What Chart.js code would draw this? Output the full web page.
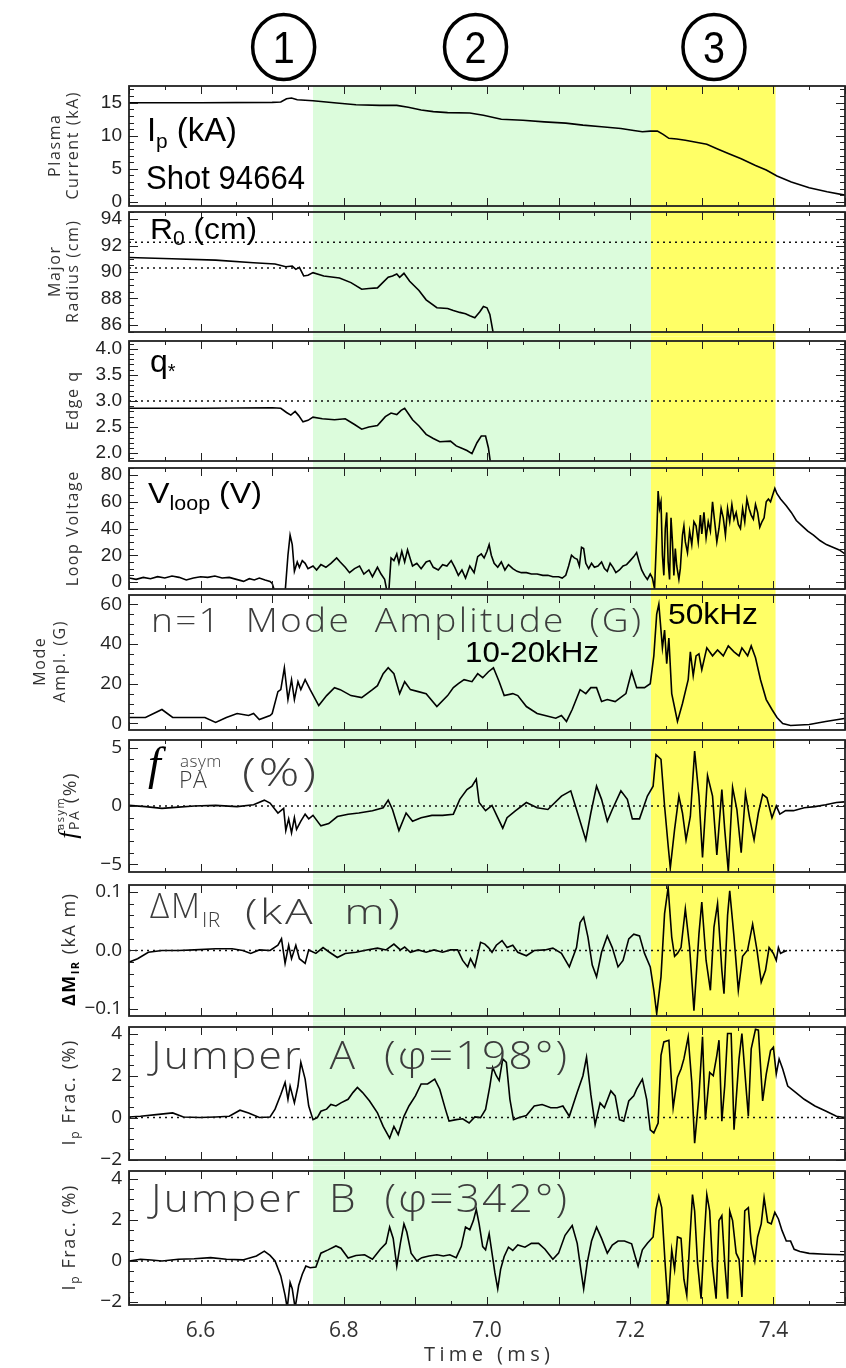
<!DOCTYPE html>
<html>
<head>
<meta charset="utf-8">
<script src="https://cdn.jsdelivr.net/npm/chart.js@4.4.1/dist/chart.umd.min.js"></script>
<style>
  html, body { margin: 0; padding: 0; background: #fff; }
  #wrap { position: relative; width: 846px; height: 1368px; overflow: hidden; background: #fff; }
  #wrap canvas { position: absolute; left: 0; }
</style>
</head>
<body>
<div id="wrap"></div>
<script>
// ---------------- data (time in ms) ----------------
const timeRange = [6.5, 7.5];
const timeTicks = [6.6, 6.8, 7.0, 7.2, 7.4];
const phaseEdges = [6.757, 7.229, 7.403];          // start of phase 2, start of phase 3, end of phase 3
const phaseMarkTimes = [6.716, 6.984, 7.317];
const phaseMarkLabels = ['1', '2', '3'];
const radiusLimits = [92.25, 90.3];
const qLimit = [3.0];
const zeroLine = [0];

const plasmaCurrent = [
  [6.500,15.0],[6.600,15.0],[6.700,15.05],[6.712,15.1],[6.720,15.6],[6.727,15.7],[6.735,15.45],
  [6.757,15.3],[6.790,14.95],[6.817,14.7],[6.850,14.6],[6.874,14.6],[6.890,14.3],[6.908,13.9],
  [6.925,13.65],[6.945,13.5],[6.976,13.45],[6.995,13.1],[7.020,12.5],[7.050,12.35],[7.080,12.1],
  [7.110,11.9],[7.134,11.6],[7.160,11.35],[7.187,11.1],[7.205,10.8],[7.217,10.6],[7.228,10.7],
  [7.238,10.7],[7.246,10.2],[7.254,9.6],[7.265,9.5],[7.277,9.3],[7.292,9.0],[7.307,8.7],[7.322,8.0],
  [7.337,7.3],[7.355,6.5],[7.375,5.5],[7.390,4.8],[7.405,3.9],[7.425,3.0],[7.450,2.1],[7.475,1.5],[7.500,1.0]
];

const majorRadius = [
  [6.500,91.1],[6.560,91.0],[6.621,90.9],[6.674,90.7],[6.704,90.6],[6.719,90.4],[6.728,90.45],
  [6.733,90.2],[6.738,90.35],[6.744,89.7],[6.750,89.75],[6.757,89.95],[6.772,89.7],[6.794,89.55],
  [6.810,89.2],[6.825,88.7],[6.835,88.75],[6.847,88.8],[6.862,89.6],[6.868,89.7],[6.874,89.85],
  [6.878,89.6],[6.884,89.9],[6.892,89.3],[6.905,88.6],[6.915,87.9],[6.930,87.3],[6.945,87.25],
  [6.953,87.1],[6.962,86.95],[6.970,86.85],[6.976,86.7],[6.983,86.55],[6.990,87.0],[6.995,87.4],
  [7.000,87.3],[7.004,86.8],[7.009,85.3]
];

const edgeQ = [
  [6.500,2.86],[6.600,2.86],[6.700,2.87],[6.712,2.86],[6.720,2.78],[6.726,2.73],[6.732,2.80],
  [6.737,2.72],[6.743,2.60],[6.750,2.63],[6.757,2.69],[6.770,2.66],[6.787,2.64],[6.802,2.66],
  [6.815,2.55],[6.825,2.46],[6.835,2.50],[6.847,2.53],[6.858,2.70],[6.866,2.77],[6.874,2.74],
  [6.880,2.82],[6.885,2.86],[6.896,2.64],[6.905,2.52],[6.915,2.36],[6.925,2.28],[6.934,2.22],
  [6.949,2.23],[6.957,2.14],[6.964,2.10],[6.972,2.05],[6.979,1.99],[6.986,2.20],[6.992,2.33],
  [6.998,2.33],[7.002,2.10],[7.005,1.80]
];

const loopVoltage = [
  [6.500,3],[6.510,2],[6.520,3.5],[6.530,2.5],[6.540,4],[6.550,3],[6.560,4.5],[6.570,3.5],[6.580,1.5],
  [6.590,3],[6.600,4],[6.610,3.5],[6.620,4.5],[6.630,3],[6.640,3.5],[6.650,2],[6.660,0.5],[6.668,2.5],
  [6.675,1.5],[6.682,3],[6.690,1.5],[6.697,0.5],[6.700,-1],[6.704,-8],[6.718,-8],[6.722,20],[6.725,35],
  [6.728,28],[6.731,8],[6.735,15],[6.738,11],[6.742,16],[6.746,14],[6.750,10],[6.757,12],[6.762,9],
  [6.768,13],[6.775,11],[6.782,14],[6.790,18],[6.795,15],[6.802,11],[6.808,7],[6.815,10],[6.822,12],
  [6.828,6],[6.835,9],[6.840,4],[6.847,11],[6.852,6],[6.857,2],[6.860,-6],[6.863,-6],[6.866,18],
  [6.870,16],[6.874,21],[6.877,14],[6.881,23],[6.885,15],[6.889,24],[6.893,17],[6.896,12],[6.902,14],
  [6.908,10],[6.915,15],[6.920,16],[6.925,11],[6.932,9],[6.938,13],[6.944,12],[6.950,16],[6.955,11],
  [6.960,5],[6.965,9],[6.970,3],[6.976,12],[6.982,7],[6.987,19],[6.992,21],[6.996,18],[7.000,23],
  [7.003,28],[7.006,20],[7.010,14],[7.015,11],[7.020,15],[7.025,9],[7.030,13],[7.036,10],[7.042,8],
  [7.048,7],[7.055,7],[7.062,6],[7.070,6],[7.078,5],[7.085,5],[7.092,4],[7.100,4],[7.105,3],[7.110,5],
  [7.114,12],[7.118,20],[7.122,18],[7.126,17],[7.129,12],[7.132,26],[7.135,25],[7.138,14],[7.142,10],
  [7.146,14],[7.150,11],[7.155,12],[7.160,15],[7.164,10],[7.168,8],[7.172,14],[7.176,11],[7.180,7],
  [7.185,9],[7.190,12],[7.195,13],[7.200,16],[7.205,19],[7.209,22],[7.212,16],[7.216,9],[7.220,5],
  [7.224,2],[7.228,6],[7.231,3],[7.234,-5],[7.237,35],[7.239,68],[7.241,55],[7.243,60],[7.245,20],
  [7.247,5],[7.249,40],[7.251,52],[7.253,15],[7.255,2],[7.257,48],[7.259,30],[7.261,5],[7.263,25],
  [7.265,12],[7.268,2],[7.270,10],[7.273,35],[7.275,42],[7.277,30],[7.280,22],[7.283,38],[7.286,28],
  [7.289,45],[7.292,42],[7.295,30],[7.298,50],[7.300,36],[7.303,52],[7.306,33],[7.309,45],[7.312,38],
  [7.315,60],[7.318,45],[7.321,30],[7.324,40],[7.327,55],[7.330,48],[7.333,35],[7.336,55],[7.339,45],
  [7.342,58],[7.345,47],[7.348,52],[7.351,43],[7.354,40],[7.357,55],[7.360,45],[7.363,62],[7.366,55],
  [7.369,50],[7.372,47],[7.375,58],[7.378,52],[7.381,41],[7.384,45],[7.387,48],[7.390,60],[7.393,62],
  [7.396,60],[7.399,65],[7.402,70],[7.405,66],[7.410,62],[7.418,57],[7.425,52],[7.432,46],[7.440,42],
  [7.448,38],[7.456,35],[7.465,31],[7.474,28],[7.483,26],[7.492,24],[7.500,21]
];

const modeAmplitude = [
  [6.500,3],[6.523,3],[6.546,7],[6.561,3],[6.584,3],[6.606,3],[6.621,0.5],[6.636,3],[6.651,5],
  [6.667,4],[6.674,5],[6.682,2],[6.697,4],[6.700,5],[6.708,16],[6.712,17],[6.717,28],[6.722,12],
  [6.727,22],[6.731,12],[6.736,21],[6.740,17],[6.746,22],[6.753,17],[6.765,9],[6.776,14],[6.787,18],
  [6.795,17],[6.810,14],[6.825,13],[6.840,17],[6.847,19],[6.855,25],[6.862,28],[6.870,25],[6.878,15],
  [6.885,21],[6.893,17],[6.904,16],[6.915,15],[6.930,8.5],[6.945,14],[6.953,18],[6.960,20],[6.968,22],
  [6.979,21],[6.987,25],[6.994,23],[7.002,26],[7.009,28],[7.017,21],[7.024,14],[7.036,15],[7.043,14],
  [7.055,8.5],[7.070,5],[7.081,4],[7.096,2.6],[7.104,4],[7.111,1],[7.119,7],[7.130,17],[7.138,15],
  [7.145,18],[7.153,18],[7.160,11],[7.168,12],[7.179,11],[7.194,15],[7.202,26],[7.209,18],[7.220,18],
  [7.228,20],[7.233,34],[7.237,55],[7.240,60],[7.245,38],[7.248,47],[7.251,30],[7.254,43],[7.258,15],
  [7.262,8],[7.266,1],[7.273,10],[7.281,22],[7.284,36],[7.288,24],[7.292,34],[7.296,35],[7.300,27],
  [7.307,38],[7.315,34],[7.322,37],[7.330,34],[7.337,39],[7.345,36],[7.352,34],[7.356,38],[7.364,34],
  [7.369,39],[7.375,33],[7.382,22],[7.390,12],[7.398,7],[7.405,3],[7.413,0],[7.424,-1],[7.450,-0.5],
  [7.473,1],[7.499,2.5]
];

const fAsymPA = [
  [6.500,0.05],[6.523,-0.05],[6.546,-0.2],[6.569,-0.1],[6.591,0],[6.621,0.05],[6.651,-0.05],[6.674,0.1],
  [6.689,0.5],[6.697,0.25],[6.708,-0.6],[6.716,-0.2],[6.719,-2.1],[6.723,-1.1],[6.727,-2.3],[6.731,-1.0],
  [6.734,-2.0],[6.740,-1.3],[6.746,-0.7],[6.751,-1.1],[6.757,-0.8],[6.768,-1.7],[6.779,-1.5],[6.791,-0.9],
  [6.806,-0.7],[6.821,-0.6],[6.840,-0.4],[6.855,-0.15],[6.862,0.5],[6.868,-0.3],[6.877,-2.1],[6.887,-0.6],
  [6.896,-1.3],[6.908,-1.0],[6.923,-0.8],[6.938,-0.8],[6.953,-0.7],[6.962,0.57],[6.972,1.4],[6.979,1.7],
  [6.985,2.3],[6.989,0.3],[6.998,-0.4],[7.007,0.05],[7.015,-1.0],[7.022,-1.9],[7.028,-1.0],[7.040,-0.4],
  [7.055,0.3],[7.070,-0.15],[7.085,-0.3],[7.104,0.85],[7.117,1.3],[7.125,-0.3],[7.138,-2.9],[7.145,-0.6],
  [7.153,1.7],[7.160,0.57],[7.168,-1.3],[7.175,-0.3],[7.187,1.3],[7.196,0.57],[7.203,-1.1],[7.213,-1.1],
  [7.224,0.85],[7.232,1.7],[7.236,4.4],[7.243,4.0],[7.248,0],[7.253,-3.4],[7.256,-5.3],[7.262,-2.0],
  [7.268,0.85],[7.273,-0.6],[7.278,-2.9],[7.284,-0.9],[7.290,4.7],[7.296,0.85],[7.301,-4.4],[7.308,2.6],
  [7.315,0.85],[7.321,-4.2],[7.328,1.4],[7.332,-2.0],[7.337,-5.6],[7.343,1.6],[7.349,-0.3],[7.355,-4.0],
  [7.361,1.1],[7.367,-1.1],[7.373,-2.9],[7.379,-0.6],[7.385,1.0],[7.391,0.7],[7.398,-1.0],[7.404,0],
  [7.409,-0.7],[7.417,-0.4],[7.428,-0.4],[7.443,-0.15],[7.458,-0.05],[7.473,0.1],[7.488,0.3],[7.499,0.35]
];

const deltaMIR = [
  [6.500,-0.020],[6.512,-0.014],[6.527,-0.003],[6.546,0],[6.569,0],[6.591,0.001],[6.621,0.003],
  [6.644,0.003],[6.659,0],[6.670,-0.005],[6.682,0.001],[6.697,0],[6.708,0.009],[6.713,0.020],
  [6.718,-0.022],[6.723,0.009],[6.727,-0.014],[6.733,0.009],[6.738,-0.014],[6.746,-0.022],[6.751,0.001],
  [6.761,-0.005],[6.771,0.005],[6.780,-0.003],[6.791,-0.012],[6.802,-0.005],[6.817,-0.003],[6.832,0.001],
  [6.847,0.004],[6.859,0.001],[6.870,0.011],[6.879,0.001],[6.885,0.006],[6.893,-0.003],[6.904,0.001],
  [6.915,-0.003],[6.926,0.001],[6.938,-0.003],[6.949,0.001],[6.959,0.001],[6.966,-0.017],[6.973,-0.028],
  [6.977,-0.014],[6.983,-0.028],[6.991,0.014],[6.997,0.011],[7.002,0.005],[7.007,-0.003],[7.013,0.009],
  [7.021,0.017],[7.028,0.005],[7.036,0.009],[7.043,-0.003],[7.055,-0.009],[7.066,0],[7.081,0.001],
  [7.092,0.004],[7.104,-0.005],[7.115,-0.028],[7.125,0.005],[7.130,0.048],[7.135,0.057],[7.141,0.023],
  [7.147,-0.025],[7.153,-0.045],[7.160,-0.003],[7.168,0.025],[7.175,0.005],[7.183,-0.028],[7.190,-0.017],
  [7.198,0.020],[7.205,0.028],[7.213,0.025],[7.220,-0.005],[7.228,-0.028],[7.233,-0.068],[7.237,-0.108],
  [7.243,-0.045],[7.248,0.063],[7.253,0.108],[7.258,0.023],[7.262,-0.010],[7.266,-0.005],[7.271,0.005],
  [7.277,0.071],[7.283,0.005],[7.289,-0.103],[7.296,0.028],[7.300,0.083],[7.306,-0.017],[7.312,-0.068],
  [7.317,0.040],[7.322,0.080],[7.328,-0.034],[7.331,-0.074],[7.336,0.060],[7.339,0.102],[7.345,0.023],
  [7.351,-0.068],[7.357,-0.010],[7.364,0.001],[7.371,0.045],[7.377,0.001],[7.383,-0.054],[7.389,-0.034],
  [7.394,0.005],[7.400,-0.005],[7.404,-0.017],[7.407,0.005],[7.410,-0.005],[7.413,-0.003],[7.419,0]
];

const jumperA = [
  [6.500,0.03],[6.516,0.06],[6.538,0.14],[6.561,0.22],[6.576,0.03],[6.599,0],[6.621,0.03],[6.640,0.06],
  [6.655,0.35],[6.667,0.22],[6.682,0],[6.697,0.03],[6.704,0.4],[6.712,1.1],[6.718,1.67],[6.722,0.87],
  [6.725,1.5],[6.731,0.7],[6.736,1.5],[6.740,2.63],[6.746,1.83],[6.751,0.55],[6.757,-0.1],[6.763,0],
  [6.768,0.3],[6.776,0.4],[6.782,0.62],[6.789,0.55],[6.796,0.7],[6.806,0.87],[6.813,1.2],[6.819,1.43],
  [6.826,1.2],[6.836,0.79],[6.847,0.22],[6.855,-0.42],[6.864,-0.98],[6.870,-0.42],[6.876,-0.81],
  [6.884,0.06],[6.891,0.55],[6.900,1.03],[6.908,1.6],[6.917,1.6],[6.927,1.83],[6.934,1.35],[6.942,0.39],
  [6.947,-0.17],[6.957,-0.1],[6.966,-0.06],[6.975,-0.26],[6.983,0.03],[6.991,0],[6.998,0.39],[7.004,1.5],
  [7.008,2.39],[7.013,1.99],[7.017,1.76],[7.022,2.79],[7.027,2.63],[7.032,0.87],[7.037,-0.1],[7.045,0],
  [7.055,0.1],[7.066,0.55],[7.077,0.62],[7.089,0.47],[7.098,0.47],[7.106,0.55],[7.115,0.06],[7.126,1.2],
  [7.134,1.99],[7.139,2.87],[7.145,1.1],[7.151,-0.34],[7.158,0.7],[7.164,0.47],[7.173,1.27],[7.179,1.03],
  [7.185,-0.1],[7.191,-0.17],[7.198,0.79],[7.205,1.03],[7.209,1.35],[7.217,1.83],[7.223,0.87],[7.228,-0.58],
  [7.233,-0.73],[7.239,-0.26],[7.243,2.96],[7.247,3.6],[7.254,3.68],[7.260,0.47],[7.266,1.91],[7.271,2.31],
  [7.275,2.79],[7.281,3.84],[7.286,1.67],[7.290,-1.22],[7.296,1.03],[7.301,3.84],[7.305,-0.1],[7.311,2.15],
  [7.316,1.99],[7.321,2.96],[7.324,3.68],[7.328,-0.17],[7.332,1.5],[7.336,4.0],[7.341,4.0],[7.345,-0.58],
  [7.352,2.79],[7.356,4.0],[7.362,1.35],[7.365,0.06],[7.369,3.27],[7.375,4.2],[7.379,4.16],[7.385,0.79],
  [7.390,2.07],[7.396,3.19],[7.400,3.35],[7.404,2.07],[7.408,2.79],[7.413,2.31],[7.420,1.5],[7.431,1.2],
  [7.443,0.87],[7.458,0.55],[7.473,0.31],[7.488,0.06],[7.499,0]
];

const jumperB = [
  [6.500,0],[6.516,0.08],[6.531,0.05],[6.546,0],[6.569,0.08],[6.591,0.11],[6.614,0.16],[6.636,0.08],
  [6.659,0.05],[6.678,0.24],[6.689,0.48],[6.697,0.27],[6.704,0],[6.712,-0.73],[6.718,-1.68],[6.721,-2.3],
  [6.725,-1.05],[6.728,-1.36],[6.732,-2.3],[6.737,-1.2],[6.742,-0.65],[6.747,-0.25],[6.753,-0.33],
  [6.761,-0.3],[6.768,0.38],[6.778,0.54],[6.789,0.73],[6.796,0.62],[6.806,0.14],[6.817,0.27],[6.829,0.3],
  [6.840,0.08],[6.851,0.57],[6.859,0.86],[6.864,1.65],[6.869,1.1],[6.874,-0.25],[6.879,0.86],[6.884,1.81],
  [6.888,1.41],[6.894,0.38],[6.902,0],[6.909,0.16],[6.919,0.24],[6.930,0.3],[6.939,0.24],[6.948,0.3],
  [6.957,0.16],[6.964,0.7],[6.970,1.65],[6.976,1.52],[6.981,1.97],[6.985,2.52],[6.989,1.81],[6.994,0.7],
  [6.998,0.54],[7.003,1.33],[7.007,0.38],[7.011,-0.57],[7.015,-1.36],[7.019,-0.41],[7.024,0.22],
  [7.030,0.67],[7.036,0.51],[7.043,0.78],[7.053,0.67],[7.062,0.86],[7.072,0.86],[7.081,0.57],[7.092,0.08],
  [7.100,0.38],[7.109,1.25],[7.119,1.73],[7.126,0.86],[7.131,-0.41],[7.135,-1.36],[7.140,-0.08],
  [7.146,0.97],[7.153,1.65],[7.160,1.1],[7.168,0.38],[7.175,0.78],[7.183,0.97],[7.192,0.97],[7.202,0.84],
  [7.207,0.22],[7.211,-0.25],[7.217,0.54],[7.224,0.86],[7.232,1.17],[7.236,2.52],[7.240,3.16],[7.244,2.6],
  [7.249,-0.25],[7.253,-2.3],[7.258,0.54],[7.262,-0.41],[7.266,1.17],[7.271,1.1],[7.275,-0.89],
  [7.279,-1.68],[7.283,0.86],[7.287,3.24],[7.290,2.44],[7.294,-0.08],[7.299,-1.84],[7.303,0.86],
  [7.307,3.24],[7.311,2.44],[7.315,-0.25],[7.320,-1.84],[7.324,1.97],[7.328,2.21],[7.332,-0.08],
  [7.336,-1.84],[7.339,2.44],[7.343,1.97],[7.348,0.38],[7.352,0.08],[7.356,-1.76],[7.360,2.44],
  [7.365,2.6],[7.369,0.86],[7.374,0],[7.378,1.17],[7.383,1.81],[7.387,3.08],[7.392,1.89],[7.397,1.81],
  [7.402,2.37],[7.407,2.05],[7.412,1.49],[7.418,0.97],[7.424,0.97],[7.429,0.57],[7.437,0.46],[7.450,0.37],
  [7.473,0.33],[7.499,0.3]
];

// ---------------- styling ----------------
const PAGE_W = 846, PAGE_H = 1368;
const PLOT_LEFT = 129, PLOT_RIGHT = 845;
const bandColors = ['#dcfcdc', '#ffff66'];
const SANS = '"Liberation Sans", Arial, Helvetica, sans-serif';
const THIN = '"Open Sans", Lato, "DejaVu Sans", sans-serif';
const SERIF = '"Liberation Serif", "Times New Roman", serif';
const GREY = '#333';

const run = (t, s, o) => Object.assign({ t, s }, o || {});

// Draws a text made of runs (sub/superscripts), optionally rotated, spaced or stretched to a width.
function drawText(ctx, spec) {
  ctx.save();
  ctx.translate(spec.x, spec.y);
  if (spec.rot) ctx.rotate(-Math.PI / 2);
  ctx.textBaseline = 'alphabetic';
  ctx.textAlign = 'left';
  const fontOf = r => (r.it ? 'italic ' : '') + (r.wt || spec.wt || 400) + ' ' + r.s + 'px ' + (r.fam || spec.fam || SANS);
  let natural = 0, chars = 0;
  for (const r of spec.runs) {
    ctx.font = fontOf(r);
    if (r.adv !== false) { natural += ctx.measureText(r.t).width; chars += [...r.t].length; }
  }
  let ls = spec.ls || 0, sx = 1;
  if (spec.w && spec.fit === 'space') ls = (spec.w - natural) / Math.max(1, chars - 1);
  else if (spec.w) sx = spec.w / (natural + ls * Math.max(0, chars - 1));
  const span = natural + ls * Math.max(0, chars - 1);
  ctx.scale(sx, 1);
  let cx = spec.align === 'center' ? -span / 2 : 0;
  for (const r of spec.runs) {
    ctx.font = fontOf(r);
    ctx.fillStyle = r.col || spec.col || '#000';
    let px = cx;
    for (const ch of [...r.t]) {
      ctx.fillText(ch, px, r.dy || 0);
      px += ctx.measureText(ch).width + ls;
    }
    if (r.adv !== false) cx = px;
  }
  ctx.restore();
}

const yTitle = (x, y, runs, extra) => Object.assign({ rot: true, x, y, runs, fam: THIN, wt: 400, col: GREY, align: 'center', ls: 1.6 }, extra || {});
const thinLabel = (x, y, runs, extra) => Object.assign({ x, y, runs, fam: THIN, wt: 300, col: '#3c3c3c', ls: 2 }, extra || {});

// ---------------- panels ----------------
const panels = [
  { series: plasmaCurrent, box: [86, 206], range: [-0.65, 17.53], step: 5, minor: 1, dec: 0, refs: [], tickFam: SANS,
    labels: [
      { x: 147, y: 141, runs: [run('I', 33), run('p', 21, { dy: 7 }), run(' (kA)', 33)], w: 90 },
      { x: 146, y: 189, runs: [run('Shot 94664', 33)], w: 159 },
      yTitle(60, 146, [run('Plasma', 16)]),
      yTitle(78, 146, [run('Current (kA)', 16)])
    ] },
  { series: majorRadius, box: [212, 332], range: [85.47, 94.53], step: 2, minor: 0.5, dec: 0, refs: radiusLimits, tickFam: SANS,
    labels: [
      { x: 150, y: 239, runs: [run('R', 30), run('0', 20, { dy: 6 }), run(' (cm)', 30)], w: 107 },
      yTitle(60, 272, [run('Major', 16)]),
      yTitle(78, 272, [run('Radius (cm)', 16)])
    ] },
  { series: edgeQ, box: [341, 461], range: [1.85, 4.15], step: 0.5, minor: 0.1, dec: 1, refs: qLimit, tickFam: SANS,
    labels: [
      { x: 150, y: 372, runs: [run('q', 32), run('*', 20, { dy: 6 })] },
      yTitle(78, 401, [run('Edge q', 16)])
    ] },
  { series: loopVoltage, box: [468, 589], range: [-5.2, 85.2], step: 20, minor: 5, dec: 0, refs: [], tickFam: SANS,
    labels: [
      { x: 148, y: 503, runs: [run('V', 30), run('loop', 20, { dy: 7 }), run(' (V)', 30)], w: 114 },
      yTitle(78, 529, [run('Loop Voltage', 16)])
    ] },
  { series: modeAmplitude, box: [595, 730], range: [-3.3, 64.6], step: 20, minor: 5, dec: 0, refs: [], tickFam: THIN,
    labels: [
      thinLabel(151, 632, [run('n=1  Mode  Amplitude  (G)', 33)], { w: 490 }),
      { x: 465, y: 662, runs: [run('10-20kHz', 30)], w: 134 },
      { x: 668, y: 624, runs: [run('50kHz', 30)], w: 90 },
      yTitle(45, 662, [run('Mode', 16)]),
      yTitle(65, 662, [run('Ampl. (G)', 16)])
    ] },
  { series: fAsymPA, box: [740, 872], range: [-5.65, 5.65], step: 5, minor: 1, dec: 0, refs: zeroLine, tickFam: THIN,
    labels: [
      { x: 148, y: 779, runs: [run('f', 46, { it: true, fam: SERIF })] },
      thinLabel(180, 767, [run('asym', 17)], { ls: 0.5 }),
      thinLabel(179, 788, [run('PA', 23)], { ls: 0.5 }),
      thinLabel(242, 786, [run('(%)', 38)], { w: 74 }),
      yTitle(76, 806, [run('f', 26, { it: true, fam: SERIF, col: '#000' }), run('asym', 11, { dy: -12, adv: false }),
        run('PA', 14, { dy: 3 }), run(' (%)', 19)], { ls: 1.5 })
    ] },
  { series: deltaMIR, box: [885, 1016], range: [-0.112, 0.112], step: 0.1, minor: 0.02, dec: 1, refs: zeroLine, tickFam: THIN,
    labels: [
      thinLabel(150, 918, [run('ΔM', 35)], { w: 50 }),
      thinLabel(202, 927, [run('IR', 21)], { ls: 0.5 }),
      thinLabel(245, 924, [run('(kA  m)', 35)], { w: 155 }),
      yTitle(75, 950, [run('ΔM', 18, { wt: 700, col: '#000' }), run('IR', 11, { dy: 4, wt: 700, col: '#000' }), run(' (kA m)', 18)], { ls: 1.5 })
    ] },
  { series: jumperA, box: [1027, 1160], range: [-2.02, 4.31], step: 2, minor: 0.5, dec: 0, refs: zeroLine, tickFam: THIN,
    labels: [
      thinLabel(151, 1069, [run('Jumper  A  (φ=198°)', 38)], { w: 416 }),
      yTitle(75, 1093, [run('I', 18), run('p', 12, { dy: 4 }), run(' Frac. (%)', 18)])
    ] },
  { series: jumperB, box: [1171, 1305], range: [-2.15, 4.39], step: 2, minor: 0.5, dec: 0, refs: zeroLine, tickFam: THIN,
    labels: [
      thinLabel(151, 1212, [run('Jumper  B  (φ=342°)', 38)], { w: 416 }),
      yTitle(75, 1238, [run('I', 18), run('p', 12, { dy: 4 }), run(' Frac. (%)', 18)])
    ] }
];

const fmt = (v, dec) => (dec ? v.toFixed(dec) : String(Math.round(v))).replace('-', '\u2212');

function makeDecorPlugin(p, idx, canvasTop, ownTop, ownBot) {
  const last = idx === panels.length - 1;
  return {
    id: 'panelDecor' + idx,
    beforeDraw(chart) {
      const { ctx } = chart;
      const xs = chart.scales.x;
      const top = Math.max(ownTop, panels[0].box[0]) - canvasTop;
      const bot = Math.min(ownBot, panels[panels.length - 1].box[1]) - canvasTop;
      for (let i = 0; i < phaseEdges.length - 1; i++) {
        const a = xs.getPixelForValue(phaseEdges[i]);
        const b = xs.getPixelForValue(phaseEdges[i + 1]);
        ctx.fillStyle = bandColors[i];
        ctx.fillRect(a, top, b - a, bot - top);
      }
    },
    afterDraw(chart) {
      const { ctx, chartArea: ca } = chart;
      const xs = chart.scales.x, ys = chart.scales.y;
      ctx.save();
      // tick marks pointing inward on all four sides
      ctx.strokeStyle = '#222';
      ctx.lineWidth = 1;
      ctx.beginPath();
      const eps = 1e-6;
      for (let t = Math.ceil(timeRange[0] / 0.05 - eps) * 0.05; t <= timeRange[1] + eps; t += 0.05) {
        const x = Math.round(xs.getPixelForValue(t)) + 0.5;
        const isMajor = Math.abs(t * 10 - Math.round(t * 10)) < 1e-4;
        const len = isMajor ? 8 : 4;
        ctx.moveTo(x, ca.top); ctx.lineTo(x, ca.top + len);
        ctx.moveTo(x, ca.bottom); ctx.lineTo(x, ca.bottom - len);
      }
      const [lo, hi] = p.range;
      for (let v = Math.ceil(lo / p.minor - eps) * p.minor; v <= hi + eps; v += p.minor) {
        const y = Math.round(ys.getPixelForValue(v)) + 0.5;
        const ratio = v / p.step;
        const isMajor = Math.abs(ratio - Math.round(ratio)) < 1e-4;
        const len = isMajor ? 9 : 5;
        ctx.moveTo(ca.left, y); ctx.lineTo(ca.left + len, y);
        ctx.moveTo(ca.right, y); ctx.lineTo(ca.right - len, y);
      }
      ctx.stroke();
      // frame
      ctx.lineWidth = 1.8;
      ctx.strokeStyle = '#222';
      ctx.strokeRect(ca.left, ca.top, ca.right - ca.left, ca.bottom - ca.top);
      // labels
      ctx.translate(0, -canvasTop);
      for (const spec of p.labels) drawText(ctx, spec);
      if (idx === 0) {
        // phase markers above the first panel
        ctx.translate(0, canvasTop);
        phaseMarkTimes.forEach((t, i) => {
          const cx = xs.getPixelForValue(t);
          ctx.beginPath();
          ctx.lineWidth = 3.5;
          ctx.strokeStyle = '#000';
          ctx.ellipse(cx, 47, 31, 32.5, 0, 0, Math.PI * 2);
          ctx.stroke();
          drawText(ctx, { x: cx, y: 63, runs: [run(phaseMarkLabels[i], 44)], align: 'center', fam: SANS, w: 22 });
        });
        ctx.translate(0, -canvasTop);
      }
      if (last) {
        drawText(ctx, { x: (xs.left + xs.right) / 2, y: 1361, runs: [run('Time (ms)', 20)], fam: THIN, wt: 400, col: GREY, align: 'center', w: 126, fit: 'space' });
      }
      ctx.restore();
    }
  };
}

const wrap = document.getElementById('wrap');
const OVERLAP = 16;

panels.forEach((p, idx) => {
  const last = idx === panels.length - 1;
  const ownTop = idx === 0 ? 0 : (panels[idx - 1].box[1] + p.box[0]) / 2;
  const ownBot = last ? PAGE_H : (p.box[1] + panels[idx + 1].box[0]) / 2;
  const cTop = Math.max(0, Math.floor(ownTop - OVERLAP));
  const cBot = Math.min(PAGE_H, Math.ceil(ownBot + OVERLAP));
  const canvas = document.createElement('canvas');
  canvas.width = PAGE_W;
  canvas.height = cBot - cTop;
  canvas.style.top = cTop + 'px';
  canvas.style.width = PAGE_W + 'px';
  canvas.style.height = (cBot - cTop) + 'px';
  wrap.appendChild(canvas);

  const datasets = p.refs.map(r => ({
    data: [{ x: timeRange[0], y: r }, { x: timeRange[1], y: r }],
    borderColor: '#111', borderWidth: 1.4, borderDash: [2, 4], pointRadius: 0, fill: false
  }));
  datasets.push({
    data: p.series.map(([x, y]) => ({ x, y })),
    borderColor: '#000', borderWidth: 1.6, pointRadius: 0, tension: 0, fill: false
  });

  new Chart(canvas, {
    type: 'line',
    data: { datasets },
    options: {
      responsive: false,
      animation: false,
      devicePixelRatio: 1,
      events: [],
      layout: {
        autoPadding: false,
        padding: { left: 0, right: PAGE_W - PLOT_RIGHT, top: p.box[0] - cTop, bottom: last ? 0 : cBot - p.box[1] }
      },
      plugins: { legend: { display: false }, tooltip: { enabled: false } },
      scales: {
        x: {
          type: 'linear', min: timeRange[0], max: timeRange[1],
          display: last,
          grid: { display: false, drawTicks: false },
          border: { display: false },
          ticks: {
            autoSkip: false, maxRotation: 0, padding: 13,
            color: '#333', font: { family: THIN, size: 21 },
            callback: v => v.toFixed(1)
          },
          afterBuildTicks: s => { s.ticks = timeTicks.map(value => ({ value })); },
          afterFit: s => { if (last) s.height = cBot - p.box[1]; }
        },
        y: {
          type: 'linear', min: p.range[0], max: p.range[1],
          grid: { display: false, drawTicks: false },
          border: { display: false },
          ticks: {
            stepSize: p.step, includeBounds: false, autoSkip: false, padding: 7,
            color: '#222', font: { family: p.tickFam, size: 19 },
            callback: v => fmt(v, p.dec)
          },
          afterFit: s => { s.width = PLOT_LEFT; }
        }
      }
    },
    plugins: [makeDecorPlugin(p, idx, cTop, ownTop, ownBot)]
  });
});
</script>
</body>
</html>
